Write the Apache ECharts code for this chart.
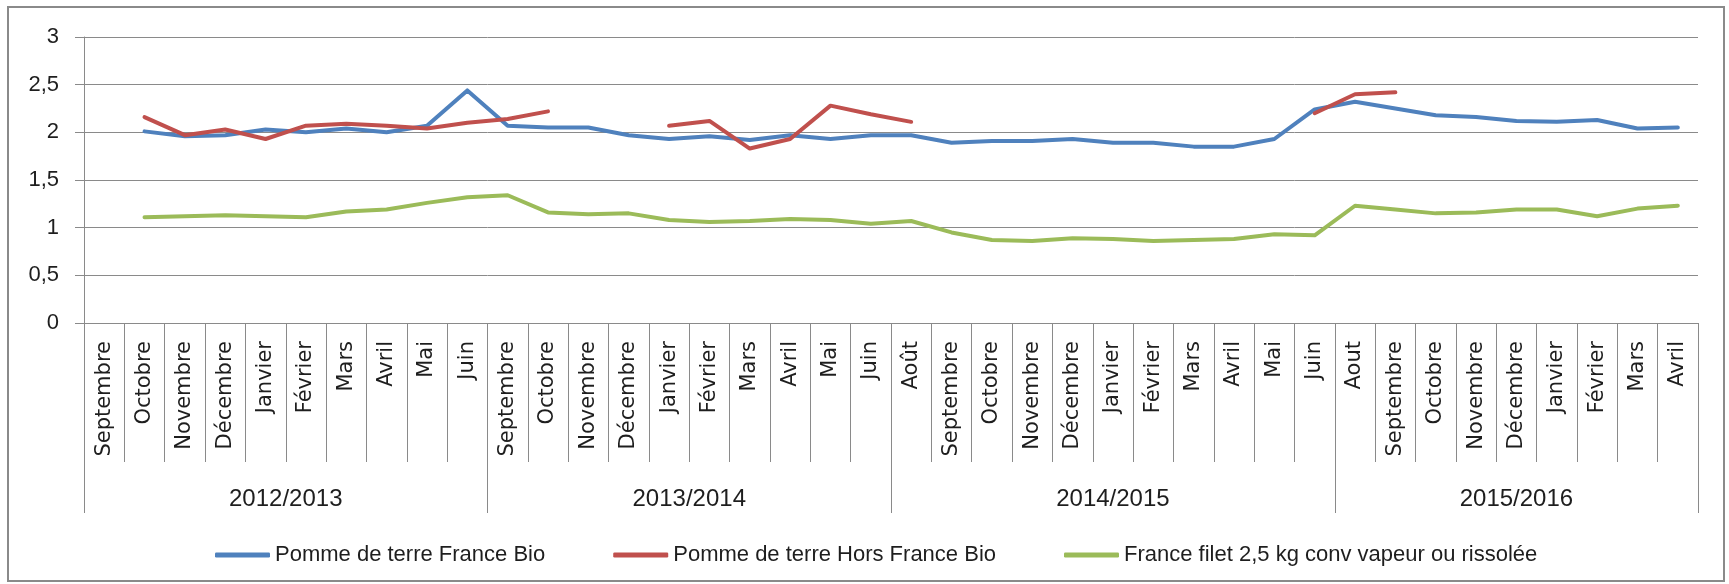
<!DOCTYPE html>
<html>
<head>
<meta charset="utf-8">
<title>Prix pomme de terre</title>
<script src="https://cdn.jsdelivr.net/npm/echarts@6/dist/echarts.min.js"></script>
<style>
	html, body { margin: 0; padding: 0; background: #fff; }
	#chart { width: 1729px; height: 584px; }
</style>
</head>
<body>
<div id="chart"></div>
<script>
	// mois (40 catégories, 4 campagnes)
	var months = [
		'Septembre', 'Octobre', 'Novembre', 'Décembre', 'Janvier', 'Février', 'Mars', 'Avril', 'Mai', 'Juin',
		'Septembre', 'Octobre', 'Novembre', 'Décembre', 'Janvier', 'Février', 'Mars', 'Avril', 'Mai', 'Juin',
		'Août', 'Septembre', 'Octobre', 'Novembre', 'Décembre', 'Janvier', 'Février', 'Mars', 'Avril', 'Mai', 'Juin',
		'Aout', 'Septembre', 'Octobre', 'Novembre', 'Décembre', 'Janvier', 'Février', 'Mars', 'Avril'
	];
	var seasons = ['2012/2013', '2013/2014', '2014/2015', '2015/2016'];
	var seasonBounds = [0, 10, 20, 31, 40];
	var seasonCenters = [5, 15, 25.5, 35.5];

	var franceBio = [null, 2.01, 1.96, 1.97, 2.03, 2.00, 2.04, 2.00, 2.07, 2.44,
		2.07, 2.05, 2.05, 1.97, 1.93, 1.96, 1.92, 1.97, 1.93, 1.97,
		1.97, 1.89, 1.91, 1.91, 1.93, 1.89, 1.89, 1.85, 1.85, 1.93, 2.24,
		2.32, 2.25, 2.18, 2.16, 2.12, 2.11, 2.13, 2.04, 2.05];
	var horsFranceBio = [null, 2.16, 1.97, 2.03, 1.93, 2.07, 2.09, 2.07, 2.04, 2.10,
		2.14, 2.22, null, null, 2.07, 2.12, 1.83, 1.93, 2.28, 2.19,
		2.11, null, null, null, null, null, null, null, null, null, 2.20,
		2.40, 2.42, null, null, null, null, null, null, null];
	var filetConv = [null, 1.11, 1.12, 1.13, 1.12, 1.11, 1.17, 1.19, 1.26, 1.32,
		1.34, 1.16, 1.14, 1.15, 1.08, 1.06, 1.07, 1.09, 1.08, 1.04,
		1.07, 0.95, 0.87, 0.86, 0.89, 0.88, 0.86, 0.87, 0.88, 0.93, 0.92,
		1.23, 1.19, 1.15, 1.16, 1.19, 1.19, 1.12, 1.20, 1.23];

	var names = ['Pomme de terre France Bio', 'Pomme de terre Hors France Bio', 'France filet 2,5 kg conv vapeur ou rissolée'];

	var gray = '#8a8a8a';
	var txt = '#1e1e1e';
	var sans = 'Liberation Sans, Arial, sans-serif';

	var chart = echarts.init(document.getElementById('chart'), null, { renderer: 'canvas' });

	function lineSerie(name, data, color) {
		return {
			name: name,
			type: 'line',
			xAxisIndex: 0,
			data: data,
			symbol: 'none',
			connectNulls: false,
			lineStyle: { color: color, width: 4, cap: 'round', join: 'round' },
			itemStyle: { color: color },
			animation: false
		};
	}

	var option = {
		animation: false,
		color: ['#4F81BD', '#C0504D', '#9BBB59'],
		grid: { left: 84, right: 31, top: 37, bottom: 261, containLabel: false },
		legend: {
			left: 210,
			top: 538,
			itemWidth: 55,
			itemHeight: 5,
			itemGap: 68,
			icon: 'roundRect',
			data: names,
			textStyle: { fontFamily: sans, fontSize: 22, color: txt, lineHeight: 24 }
		},
		xAxis: [{
			type: 'category',
			data: months,
			boundaryGap: true,
			axisLine: { lineStyle: { color: gray, width: 1 } },
			axisTick: { show: true, interval: 0, length: 139, lineStyle: { color: gray } },
			axisLabel: {
				interval: 0,
				rotate: 90,
				margin: 18,
				fontFamily: 'DejaVu Sans, sans-serif',
				fontSize: 21,
				color: txt
			},
			splitLine: { show: false }
		}, {
			// niveau campagne sous les mois
			type: 'value',
			position: 'bottom',
			min: 0,
			max: 40,
			axisLine: { show: false },
			splitLine: { show: false },
			axisTick: { show: true, customValues: seasonBounds, length: 190, lineStyle: { color: gray } },
			axisLabel: {
				customValues: seasonCenters,
				margin: 164,
				fontFamily: sans,
				fontSize: 24,
				color: txt,
				formatter: function (v) {
					var k = seasonCenters.indexOf(v);
					return k >= 0 ? seasons[k] : '';
				}
			}
		}],
		yAxis: {
			type: 'value',
			min: 0,
			max: 3,
			interval: 0.5,
			axisLine: { show: true, lineStyle: { color: gray } },
			axisTick: { show: true, length: 9, lineStyle: { color: gray } },
			splitLine: { lineStyle: { color: gray, width: 1 } },
			axisLabel: {
				margin: 25,
				fontFamily: sans,
				fontSize: 22,
				color: txt,
				formatter: function (v) {
					return String(v).replace('.', ',');
				}
			}
		},
		graphic: [{
			type: 'rect',
			shape: { x: 8, y: 7, width: 1716, height: 574 },
			style: { fill: null, stroke: gray, lineWidth: 2 },
			silent: true,
			z: -1
		}],
		series: [
			lineSerie(names[0], franceBio, '#4F81BD'),
			lineSerie(names[1], horsFranceBio, '#C0504D'),
			lineSerie(names[2], filetConv, '#9BBB59')
		]
	};

	chart.setOption(option);
</script>
</body>
</html>
